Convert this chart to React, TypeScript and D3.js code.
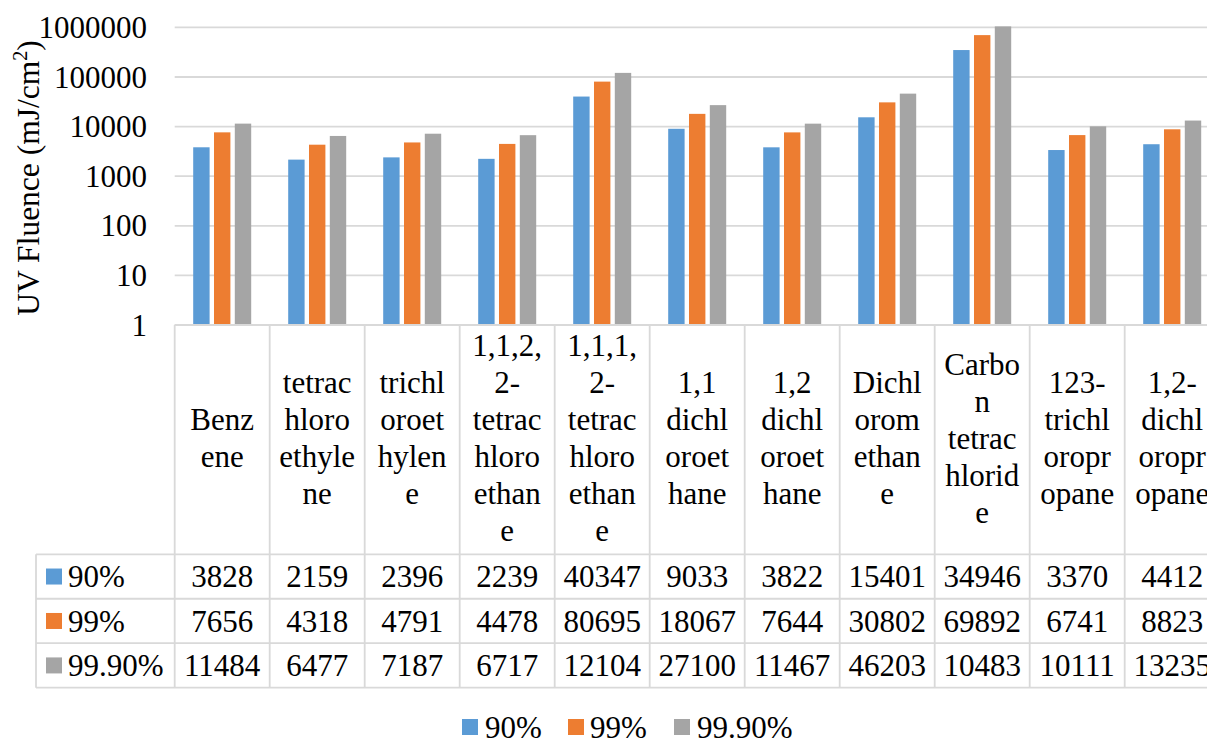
import React from "react";
import * as d3 from "d3";

const categories = [
  "Benzene",
  "tetrachloroethylene",
  "trichloroethylene",
  "1,1,2,2-tetrachloroethane",
  "1,1,1,2-tetrachloroethane",
  "1,1 dichloroethane",
  "1,2 dichloroethane",
  "Dichloromethane",
  "Carbon tetrachloride",
  "123-trichloropropane",
  "1,2-dichloropropane",
];

const categoryLines = [
  ["Benz", "ene"],
  ["tetrac", "hloro", "ethyle", "ne"],
  ["trichl", "oroet", "hylen", "e"],
  ["1,1,2,", "2-", "tetrac", "hloro", "ethan", "e"],
  ["1,1,1,", "2-", "tetrac", "hloro", "ethan", "e"],
  ["1,1", "dichl", "oroet", "hane"],
  ["1,2", "dichl", "oroet", "hane"],
  ["Dichl", "orom", "ethan", "e"],
  ["Carbo", "n", "tetrac", "hlorid", "e"],
  ["123-", "trichl", "oropr", "opane"],
  ["1,2-", "dichl", "oropr", "opane"],
];

const seriesNames = ["90%", "99%", "99.90%"];
const seriesColors = ["#5B9BD5", "#ED7D31", "#A5A5A5"];

const values90 = [3828, 2159, 2396, 2239, 40347, 9033, 3822, 15401, 349460, 3370, 4412];
const values99 = [7656, 4318, 4791, 4478, 80695, 18067, 7644, 30802, 698920, 6741, 8823];
const values999 = [11484, 6477, 7187, 6717, 121042, 27100, 11467, 46203, 1048380, 10111, 13235];

const yTicks = [1, 10, 100, 1000, 10000, 100000, 1000000];

const seriesValues = [values90, values99, values999];

const FONT = "'Liberation Serif', 'Times New Roman', serif";
const FS = 31;
const GRID = "#d9d9d9";

export default function App() {
  const W = 1207;
  const H = 740;
  const plotLeft = 174.7;
  const catW = 95;
  const plotRight = plotLeft + catW * categories.length;
  const plotTop = 27.4;
  const plotBottom = 325;

  const x = d3.scaleBand<string>().domain(categories).range([plotLeft, plotRight]).paddingInner(0).paddingOuter(0);
  const xs = d3
    .scaleBand<string>()
    .domain(seriesNames)
    .range([18.5, catW - 18.5])
    .paddingInner(0.2115)
    .paddingOuter(0);
  const y = d3.scaleLog().domain([1, 1000000]).range([plotBottom, plotTop]);

  const headerBottom = 554.3;
  const rowH = 44.45;
  const rowTops = seriesNames.map((_, i) => headerBottom + i * rowH);
  const tableBottom = headerBottom + seriesNames.length * rowH;
  const tableLeft = 36;
  const lineH = 37;
  const headerMid = 448.5;

  const fit = (v: number) => {
    const s = String(v);
    const maxChars = Math.floor((catW - 6) / (0.5 * FS));
    return s.length > maxChars ? s.slice(0, maxChars) : s;
  };

  const legendItems = [
    { x: 462, tx: 485 },
    { x: 568, tx: 590 },
    { x: 674, tx: 697 },
  ];

  return (
    <div style={{ position: "absolute", left: 0, top: 0 }}>
      <svg width={W} height={H} style={{ display: "block", background: "#fff" }} fontFamily={FONT}>
        <rect x={0} y={0} width={W} height={H} fill="#fff" />
        {/* gridlines */}
        {yTicks.map((t) => (
          <line key={"g" + t} x1={plotLeft} x2={plotRight} y1={y(t)} y2={y(t)} stroke={GRID} strokeWidth={1.8} />
        ))}
        {/* y tick labels */}
        {yTicks.map((t) => (
          <text key={"t" + t} x={147} y={y(t)} dy="0.34em" textAnchor="end" fontSize={FS} fill="#000">
            {String(t)}
          </text>
        ))}
        {/* y title */}
        <text
          transform={`translate(39,178) rotate(-90)`}
          textAnchor="middle"
          fontSize={31.5}
          fill="#000"
        >
          UV Fluence (mJ/cm
          <tspan fontSize={20} dy={-12}>
            2
          </tspan>
          <tspan dy={12}>)</tspan>
        </text>
        {/* bars */}
        {categories.map((c, ci) => (
          <g key={"b" + c} transform={`translate(${x(c)},0)`}>
            {seriesNames.map((s, si) => {
              const v = seriesValues[si][ci];
              const top = Math.max(y(v), 0);
              return (
                <rect
                  key={s}
                  x={xs(s)}
                  y={top}
                  width={xs.bandwidth()}
                  height={plotBottom - top}
                  fill={seriesColors[si]}
                />
              );
            })}
          </g>
        ))}
        {/* table horizontal lines */}
        <line x1={plotLeft} x2={plotRight} y1={plotBottom} y2={plotBottom} stroke={GRID} strokeWidth={1.8} />
        {[...rowTops, tableBottom].map((ry, i) => (
          <line key={"h" + i} x1={tableLeft} x2={plotRight} y1={ry} y2={ry} stroke={GRID} strokeWidth={1.8} />
        ))}
        {/* table vertical lines */}
        <line x1={tableLeft} x2={tableLeft} y1={headerBottom} y2={tableBottom} stroke={GRID} strokeWidth={1.8} />
        {[...categories.map((c) => x(c) as number), plotRight].map((vx, i) => (
          <line key={"v" + i} x1={vx} x2={vx} y1={plotBottom} y2={tableBottom} stroke={GRID} strokeWidth={1.8} />
        ))}
        {/* header labels */}
        {categories.map((c, ci) => {
          const lines = categoryLines[ci];
          const first = headerMid - ((lines.length - 1) * lineH) / 2;
          const cx = (x(c) as number) + x.bandwidth() / 2;
          return (
            <text key={"hl" + c} textAnchor="middle" fontSize={FS} fill="#000">
              {lines.map((ln, li) => (
                <tspan key={li} x={cx} y={first + li * lineH}>
                  {ln}
                </tspan>
              ))}
            </text>
          );
        })}
        {/* row labels */}
        {seriesNames.map((s, si) => {
          const mid = rowTops[si] + rowH / 2;
          return (
            <g key={"rl" + s}>
              <rect x={46} y={mid - 8} width={16} height={16} fill={seriesColors[si]} />
              <text x={68} y={mid} dy="0.34em" fontSize={FS} fill="#000">
                {s}
              </text>
            </g>
          );
        })}
        {/* table values */}
        {seriesNames.map((s, si) =>
          categories.map((c, ci) => (
            <text
              key={"tv" + si + "-" + ci}
              x={(x(c) as number) + x.bandwidth() / 2}
              y={rowTops[si] + rowH / 2}
              dy="0.34em"
              textAnchor="middle"
              fontSize={FS}
              fill="#000"
            >
              {fit(seriesValues[si][ci])}
            </text>
          ))
        )}
        {/* legend */}
        {seriesNames.map((s, si) => (
          <g key={"lg" + s}>
            <rect x={legendItems[si].x} y={719} width={16} height={16} fill={seriesColors[si]} />
            <text x={legendItems[si].tx} y={727} dy="0.34em" fontSize={FS} fill="#000">
              {s}
            </text>
          </g>
        ))}
      </svg>
    </div>
  );
}
